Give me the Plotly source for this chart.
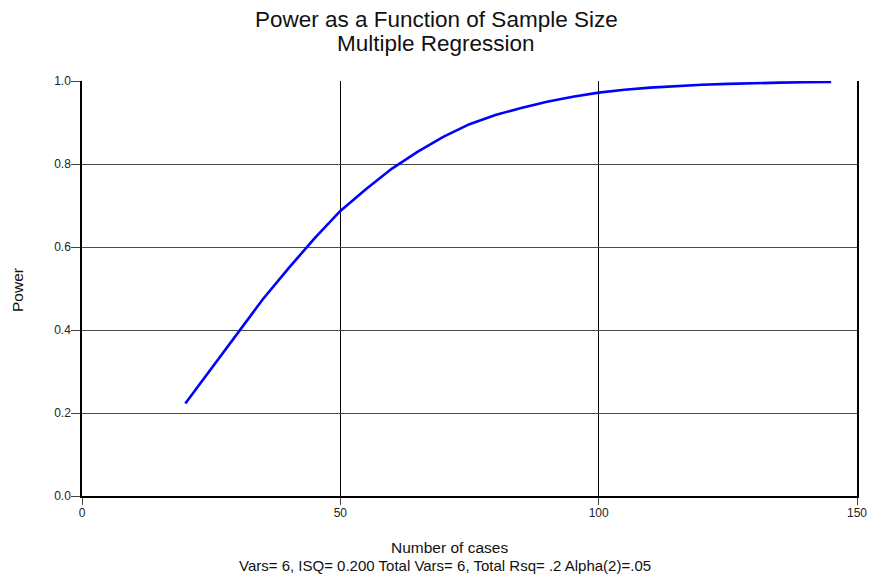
import plotly.graph_objects as go

n_cases = [20, 25, 30, 35, 40, 45, 50, 55, 60, 65, 70, 75, 80, 85, 90, 95,
           100, 105, 110, 115, 120, 125, 130, 135, 140, 145]
power = [0.223, 0.306, 0.390, 0.474, 0.549, 0.621, 0.687, 0.740, 0.789, 0.830,
         0.866, 0.896, 0.918, 0.935, 0.950, 0.962, 0.972, 0.979, 0.984, 0.988,
         0.991, 0.993, 0.995, 0.996, 0.997, 0.998]

x_ticks = [0, 50, 100, 150]
y_ticks = [0.0, 0.2, 0.4, 0.6, 0.8, 1.0]
y_tick_labels = ["0.0", "0.2", "0.4", "0.6", "0.8", "1.0"]

FONT = "Liberation Sans, Arial, sans-serif"
W, H = 869, 582
pl, pr, pt, pb = 82, 857, 81, 496


def px_to_paper(px, py):
    return (px - pl) / (pr - pl), (pb - py) / (pb - pt)


fig = go.Figure()
fig.add_trace(go.Scatter(x=n_cases, y=power, mode="lines",
                         line=dict(color="#0000FF", width=2.6),
                         hoverinfo="x+y", showlegend=False))

annots = []
for text, (x, y), size, angle in [
    ("Power as a Function of Sample Size", (436, 19), 22.5, 0),
    ("Multiple Regression", (436, 44), 22.5, 0),
    ("Number of cases", (449, 547), 15.5, 0),
    ("Vars= 6, ISQ= 0.200 Total Vars= 6, Total Rsq= .2 Alpha(2)=.05", (445, 565), 15, 0),
    ("Power", (17, 290), 15.5, -90),
]:
    ax, ay = px_to_paper(x, y)
    annots.append(dict(text=text, x=ax, y=ay, xref="paper", yref="paper",
                       showarrow=False, textangle=angle,
                       xanchor="center", yanchor="middle",
                       font=dict(size=size, family=FONT, color="#111")))

fig.update_layout(
    width=W, height=H,
    margin=dict(l=pl, r=W - pr, t=pt, b=H - pb, autoexpand=False),
    paper_bgcolor="white", plot_bgcolor="white",
    font=dict(family=FONT, color="#111"),
    xaxis=dict(range=[0, 150], tickvals=x_ticks, ticktext=[str(v) for v in x_ticks],
               showgrid=True, gridcolor="black", gridwidth=1,
               showline=True, linecolor="black", linewidth=1.5,
               ticks="outside", ticklen=7, tickcolor="#444",
               ticklabelstandoff=-2,
               tickfont=dict(size=12, family=FONT, color="#222"),
               zeroline=False, fixedrange=True),
    yaxis=dict(range=[0, 1], tickvals=y_ticks, ticktext=y_tick_labels,
               showgrid=True, gridcolor="#4a4a4a", gridwidth=1,
               showline=True, linecolor="black", linewidth=1.5, mirror=True,
               ticks="outside", ticklen=9, tickcolor="#444",
               ticklabelstandoff=-2,
               tickfont=dict(size=12, family=FONT, color="#222"),
               zeroline=False, fixedrange=True),
    annotations=annots,
)

fig.write_html("out.html", config={"displayModeBar": False},
               post_script="document.body.style.margin='0';document.body.style.padding='0';")
